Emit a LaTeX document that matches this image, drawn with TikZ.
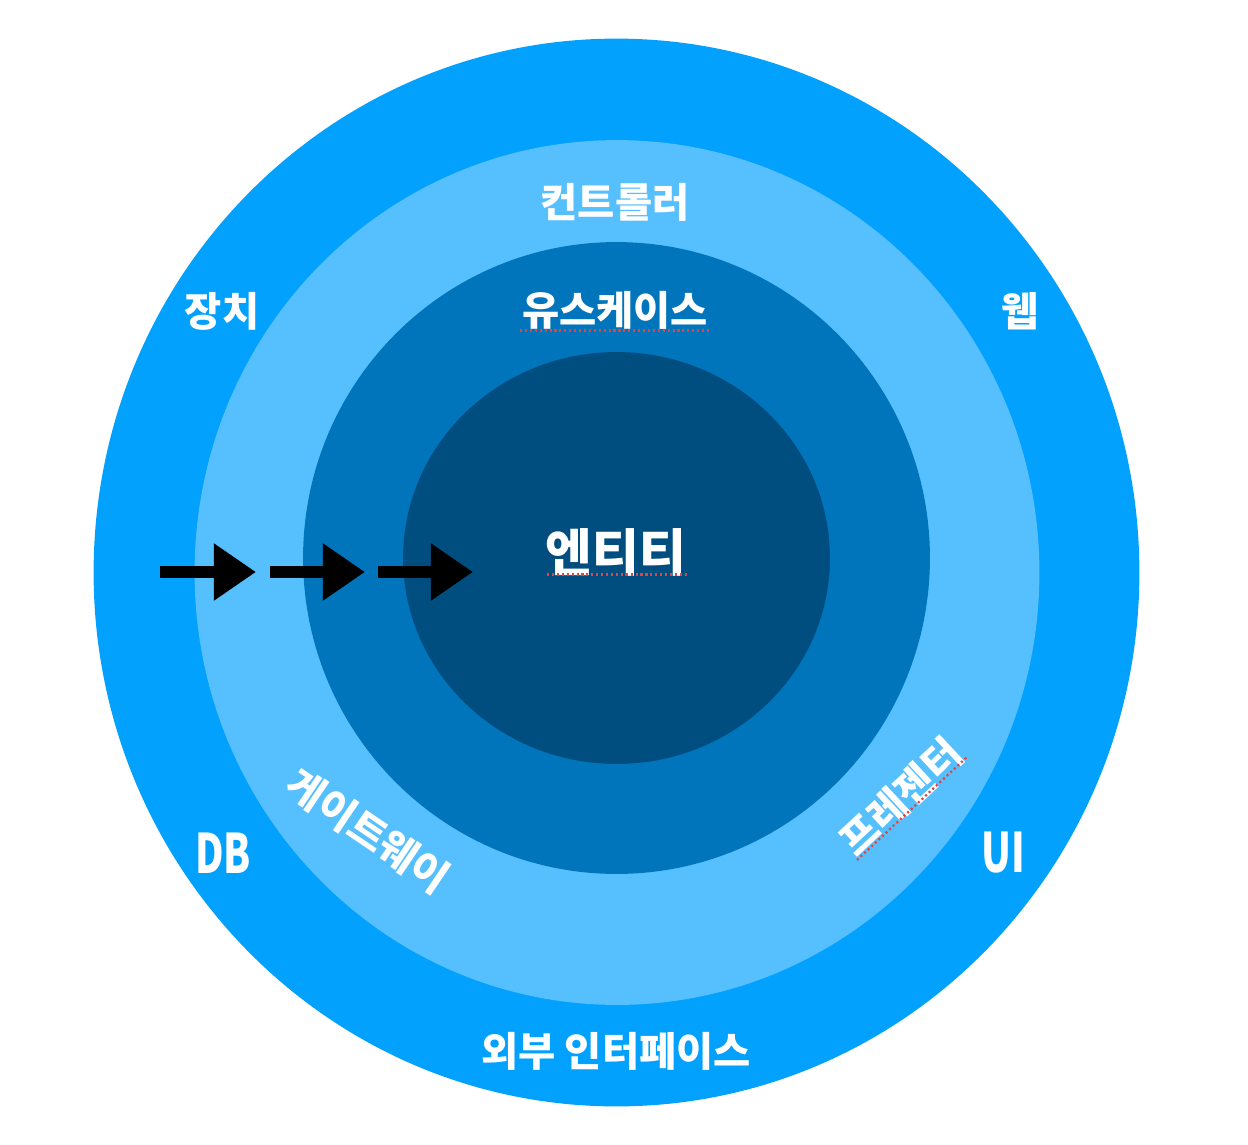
\documentclass[tikz,border=0pt]{standalone}
\usepackage{fontspec}
\newfontfamily\krfont{Noto Sans CJK KR}
\newfontfamily\krnarrow{Noto Sans CJK KR}[FakeStretch=0.72]
\usetikzlibrary{arrows.meta}
\definecolor{outerblue}{RGB}{3,161,254}
\definecolor{lightblue}{RGB}{86,192,255}
\definecolor{midblue}{RGB}{0,117,187}
\definecolor{darkblue}{RGB}{0,78,128}
\definecolor{spellred}{RGB}{228,68,60}
\begin{document}
\begin{tikzpicture}[
x=0.02cm, y=-0.02cm,
lbl/.style={
text=white,
inner sep=0pt,
font=\krfont\bfseries\fontsize{23}{27}\selectfont
},
biglbl/.style={lbl, font=\krfont\bfseries\fontsize{29}{34}\selectfont},
narrowlbl/.style={lbl, font=\krnarrow\bfseries\fontsize{31}{35}\selectfont},
flow/.style={-{Triangle[length=24pt,width=31pt]}, line width=7pt, black},
spell/.style={spellred, dash pattern=on 1.2pt off 1.6pt, line width=1.3pt}
]
\useasboundingbox (0,0) rectangle (1248,1144);
% rings, outside in
\fill[outerblue] (616.5,572.5) ellipse [x radius=10.46cm, y radius=10.68cm];
\fill[lightblue] (617,572.5) ellipse [x radius=8.45cm, y radius=8.65cm];
\fill[midblue] (616.5,558) ellipse [x radius=6.27cm, y radius=6.32cm];
\fill[darkblue] (616.5,558) ellipse [x radius=4.27cm, y radius=4.12cm];

\node[lbl] (controller) at (615,202) {컨트롤러};
\node[lbl] (usecase) at (615,310) {유스케이스};
\node[biglbl] (entity) at (616,552) {엔티티};
\node[lbl] (extif) at (616,1051) {외부 인터페이스};
\node[lbl] (device) at (222,311) {장치};
\node[lbl] (web) at (1020,311) {웹};
\node[narrowlbl] (db) at (223,853) {DB};
\node[narrowlbl] (ui) at (1003,853) {UI};
\node[lbl, rotate=-34] (gateway) at (368,831) {게이트웨이};
\node[lbl, rotate=43] (presenter) at (901,797) {프레젠터};

% spell-check marks
\draw[spell] (520,330.5) -- (710,330.5);
\draw[spell] (547,574.5) -- (687,574.5);
\draw[spell] (857,860) -- (968,756);

% dependency arrows
\coordinate (a0) at (160,572);
\coordinate (a1) at (256,572);
\coordinate (b0) at (270,572);
\coordinate (b1) at (365,572);
\coordinate (c0) at (378,572);
\coordinate (c1) at (473,572);
\draw[flow] (a0) -- (a1);
\draw[flow] (b0) -- (b1);
\draw[flow] (c0) -- (c1);
\end{tikzpicture}
\end{document}
